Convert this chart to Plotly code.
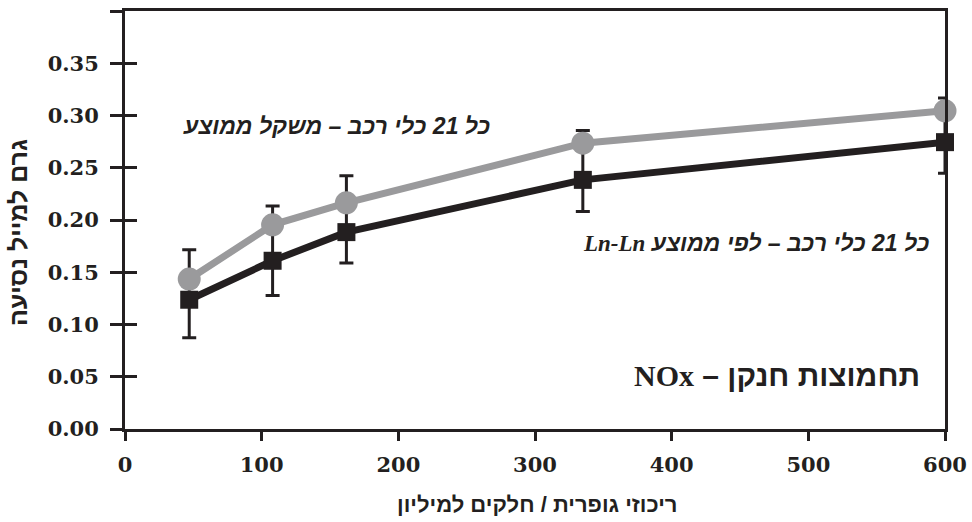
import plotly.graph_objects as go

# Data (sulfur ppm vs NOx g/mile)
sulfur_ppm = [47, 108, 162, 335, 600]
weighted_avg = [0.1435, 0.1954, 0.2164, 0.2735, 0.3045]      # gray circles
lnln_avg = [0.1237, 0.1610, 0.1884, 0.2384, 0.2745]          # black squares
err_high = [0.1715, 0.2133, 0.2423, 0.2856, 0.3168]
err_low = [0.0874, 0.1278, 0.1588, 0.2081, 0.2448]

y_tickvals = [0.00, 0.05, 0.10, 0.15, 0.20, 0.25, 0.30, 0.35, 0.40]
y_ticktext = ["0.00", "0.05", "0.10", "0.15", "0.20", "0.25", "0.30", "0.35", ""]
x_tickvals = [0, 100, 200, 300, 400, 500, 600]

BLACK = "#231f20"
GRAY = "#9a9a9c"
SERIF = "DejaVu Serif, Liberation Serif, serif"
HEB = "Liberation Sans, DejaVu Sans, Arial, sans-serif"

err_plus = [h - v for h, v in zip(err_high, lnln_avg)]
err_minus = [v - l for v, l in zip(lnln_avg, err_low)]

fig = go.Figure()
fig.add_trace(go.Scatter(
    x=sulfur_ppm, y=lnln_avg, mode="lines+markers",
    line=dict(color=BLACK, width=7),
    marker=dict(symbol="square", size=18, color=BLACK),
    error_y=dict(type="data", symmetric=False, array=err_plus, arrayminus=err_minus,
                 color=BLACK, thickness=3, width=7),
    showlegend=False, cliponaxis=False,
))
fig.add_trace(go.Scatter(
    x=sulfur_ppm, y=weighted_avg, mode="lines+markers",
    line=dict(color=GRAY, width=7),
    marker=dict(symbol="circle", size=23, color=GRAY),
    showlegend=False, cliponaxis=False,
))

tickfont = dict(family=SERIF, size=21, color=BLACK, weight="bold")
fig.update_layout(
    width=972, height=522,
    margin=dict(l=125, r=27, t=11, b=93),
    plot_bgcolor="white", paper_bgcolor="white",
    xaxis=dict(range=[0, 600], tickvals=x_tickvals, ticks="outside", ticklen=9, tickwidth=3,
               tickcolor=BLACK, showline=True, linewidth=3, linecolor=BLACK, mirror=True,
               showgrid=False, zeroline=False, ticklabelstandoff=6, tickfont=tickfont,
               automargin=False),
    yaxis=dict(range=[0, 0.40], tickvals=y_tickvals, ticktext=y_ticktext, ticks="outside",
               ticklen=12, tickwidth=3, tickcolor=BLACK, showline=True, linewidth=3,
               linecolor=BLACK, mirror=True, showgrid=False, zeroline=False,
               ticklabelstandoff=7, tickfont=tickfont, automargin=False),
    yaxis2=dict(range=[0, 0.40], tickvals=y_tickvals, showticklabels=False, ticks="inside",
                ticklen=12, tickwidth=3, tickcolor=BLACK, overlaying="y", side="left",
                showline=False, showgrid=False, zeroline=False, automargin=False),
)
# invisible trace to activate yaxis2
fig.add_trace(go.Scatter(x=[None], y=[None], yaxis="y2", showlegend=False, hoverinfo="skip"))

fig.add_annotation(text="<b>גרם למייל נסיעה</b>", textangle=-90, xref="paper", yref="paper",
                   x=-0.131, y=0.47, xanchor="center", yanchor="middle", showarrow=False,
                   font=dict(family=HEB, size=25, color=BLACK))
fig.add_annotation(text="<b>ריכוזי גופרית / חלקים למיליון</b>", xref="paper", yref="paper",
                   x=0.503, y=-0.18, xanchor="center", yanchor="middle", showarrow=False,
                   font=dict(family=HEB, size=22, color=BLACK))
fig.add_annotation(text="<b><i>כל 21 כלי רכב – משקל ממוצע</i></b>", xref="paper", yref="paper",
                   x=0.2585, y=0.725, xanchor="center", yanchor="middle", showarrow=False,
                   font=dict(family=HEB, size=23, color=BLACK))
fig.add_annotation(text="<b><i><span style='font-family:Liberation Serif'>Ln-Ln</span> כל 21 כלי רכב – לפי ממוצע</i></b>",
                   xref="paper", yref="paper",
                   x=0.769, y=0.445, xanchor="center", yanchor="middle", showarrow=False,
                   font=dict(family=HEB, size=23, color=BLACK))
fig.add_annotation(text="<b><span style='font-family:Liberation Serif'>NOx</span> – תחמוצות חנקן</b>",
                   xref="paper", yref="paper",
                   x=0.795, y=0.129, xanchor="center", yanchor="middle", showarrow=False,
                   font=dict(family=HEB, size=30, color=BLACK))

fig.write_html("out.html", config={"displayModeBar": False},
               post_script="document.body.style.margin='0';")
